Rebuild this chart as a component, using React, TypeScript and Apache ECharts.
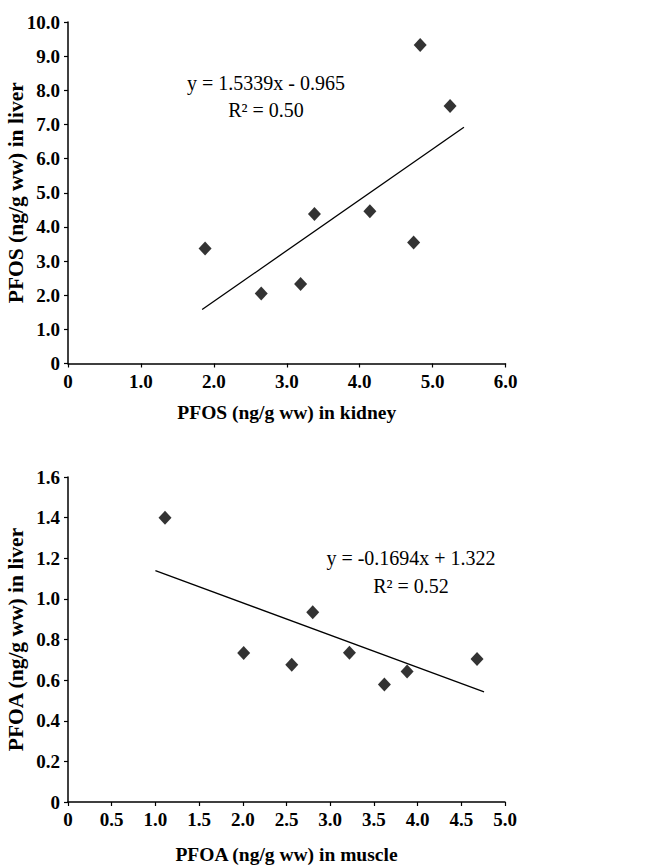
import React, { useEffect, useRef } from "react";
import * as echarts from "echarts";

// Panel A: PFOS kidney vs liver
const kidneyPFOS = [1.88, 2.65, 3.19, 3.38, 4.14, 4.74, 4.83, 5.24];
const liverPFOS = [3.37, 2.05, 2.33, 4.38, 4.46, 3.54, 9.33, 7.54];
const trendPFOSx = [1.84, 5.43];
const trendPFOSy = [1.58, 6.92];
const eqPFOS = ["y = 1.5339x - 0.965", "R² = 0.50"];

// Panel B: PFOA muscle vs liver
const musclePFOA = [1.11, 2.01, 2.56, 2.8, 3.22, 3.62, 3.88, 4.68];
const liverPFOA = [1.4, 0.734, 0.676, 0.934, 0.735, 0.578, 0.643, 0.704];
const trendPFOAx = [1.0, 4.76];
const trendPFOAy = [1.139, 0.542];
const eqPFOA = ["y = -0.1694x + 1.322", "R² = 0.52"];

const FONT = '"Liberation Serif", "Times New Roman", serif';

const fmt = (v: number) => (v === 0 ? "0" : v.toFixed(1));

function axisCommon(extra: any, nameSize: number) {
  return {
    type: "value",
    axisLine: { show: true, lineStyle: { color: "#000", width: 1.5 } },
    axisTick: { show: true, inside: false, length: 4, lineStyle: { color: "#000", width: 1.2 } },
    splitLine: { show: false },
    axisLabel: {
      color: "#000",
      fontFamily: FONT,
      fontWeight: "bold",
      fontSize: 19,
      margin: 8,
      formatter: fmt,
    },
    nameLocation: "middle",
    nameMoveOverlap: false,
    nameTextStyle: { color: "#000", fontFamily: FONT, fontWeight: "bold", fontSize: nameSize },
    ...extra,
  };
}

export default function App() {
  const ref = useRef<HTMLDivElement>(null);
  useEffect(() => {
    if (!ref.current) return;
    const chart = echarts.init(ref.current, null, { renderer: "svg" });
    const pts = (xs: number[], ys: number[]) => xs.map((x, i) => [x, ys[i]]);
    const eqStyle = (text: string) => ({
      text,
      fill: "#000",
      font: `20px ${FONT}`,
      textAlign: "center",
      textVerticalAlign: "middle",
    });
    chart.setOption({
      animation: false,
      backgroundColor: "#fff",
      grid: [
        { left: 68, top: 22, width: 437.5, height: 341.5, outerBoundsMode: "none", containLabel: false },
        { left: 68, top: 477, width: 437, height: 325, outerBoundsMode: "none", containLabel: false },
      ],
      xAxis: [
        axisCommon({ gridIndex: 0, min: 0, max: 6, interval: 1, name: "PFOS (ng/g ww) in kidney", nameGap: 39 }, 19.5),
        axisCommon({ gridIndex: 1, min: 0, max: 5, interval: 0.5, name: "PFOA (ng/g ww) in muscle", nameGap: 42 }, 19.5),
      ],
      yAxis: [
        axisCommon(
          { gridIndex: 0, min: 0, max: 10, interval: 1, name: "PFOS (ng/g ww) in liver", nameGap: 41 },
          21.5
        ),
        axisCommon(
          { gridIndex: 1, min: 0, max: 1.6, interval: 0.2, name: "PFOA (ng/g ww) in liver", nameGap: 41 },
          21.5
        ),
      ],
      series: [
        {
          type: "scatter",
          xAxisIndex: 0,
          yAxisIndex: 0,
          symbol: "diamond",
          symbolSize: [13, 14],
          itemStyle: { color: "#000" },
          data: pts(kidneyPFOS, liverPFOS),
        },
        {
          type: "line",
          xAxisIndex: 0,
          yAxisIndex: 0,
          symbol: "none",
          lineStyle: { color: "#000", width: 1.3 },
          data: pts(trendPFOSx, trendPFOSy),
        },
        {
          type: "scatter",
          xAxisIndex: 1,
          yAxisIndex: 1,
          symbol: "diamond",
          symbolSize: [13, 14],
          itemStyle: { color: "#000" },
          data: pts(musclePFOA, liverPFOA),
        },
        {
          type: "line",
          xAxisIndex: 1,
          yAxisIndex: 1,
          symbol: "none",
          lineStyle: { color: "#000", width: 1.3 },
          data: pts(trendPFOAx, trendPFOAy),
        },
      ],
      graphic: [
        { type: "text", x: 266, y: 83, style: eqStyle(eqPFOS[0]) },
        { type: "text", x: 266, y: 110, style: eqStyle(eqPFOS[1]) },
        { type: "text", x: 411, y: 558, style: eqStyle(eqPFOA[0]) },
        { type: "text", x: 411, y: 586, style: eqStyle(eqPFOA[1]) },
      ],
    });
    return () => chart.dispose();
  }, []);
  return (
    <div
      ref={ref}
      style={{ position: "absolute", left: 0, top: 0, width: 654, height: 866, background: "#fff" }}
    />
  );
}
